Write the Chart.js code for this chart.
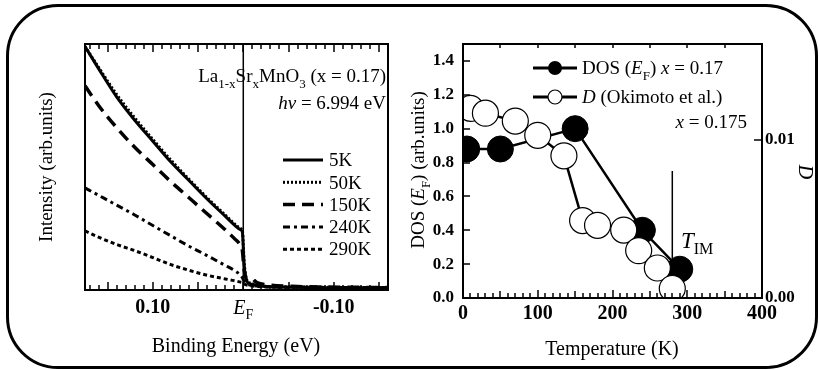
<!DOCTYPE html>
<html>
<head>
<meta charset="utf-8">
<script src="https://cdn.jsdelivr.net/npm/chart.js@4.4.1/dist/chart.umd.min.js"></script>
<style>
  body { margin: 0; background: #fff; }
  #wrap { position: relative; width: 820px; height: 370px; overflow: hidden; }
  canvas { position: absolute; top: 0; }
  #frame { position: absolute; left: 6px; top: 4px; width: 806px; height: 359px;
           border: 3px solid #000; border-radius: 52px; pointer-events: none; }
</style>
</head>
<body>
<div id="wrap">
  <canvas id="spectra" width="410" height="370" style="left:0"></canvas>
  <canvas id="dos" width="410" height="370" style="left:410px"></canvas>
  <div id="frame"></div>
</div>
<script>
// left panel: photoemission spectra
const energies = [0.175, 0.16, 0.14, 0.12, 0.10, 0.08, 0.06, 0.04, 0.02, 0.01, 0.003, 0.001,
                  -0.001, -0.004, -0.008, -0.015, -0.03, -0.06, -0.09, -0.12, -0.16];
const int5K   = [0.99, 0.90, 0.785, 0.69, 0.605, 0.52, 0.445, 0.37, 0.30, 0.265, 0.245, 0.235,
                 0.10, 0.035, 0.025, 0.018, 0.013, 0.011, 0.009, 0.009, 0.008];
const int50K  = [0.99, 0.905, 0.795, 0.70, 0.612, 0.528, 0.45, 0.375, 0.305, 0.27, 0.25, 0.24,
                 0.11, 0.04, 0.028, 0.02, 0.014, 0.012, 0.01, 0.01, 0.009];
const int150K = [0.83, 0.75, 0.66, 0.58, 0.51, 0.44, 0.375, 0.31, 0.245, 0.21, 0.18, 0.16,
                 0.08, 0.045, 0.05, 0.03, 0.02, 0.014, 0.012, 0.011, 0.01];
const int240K = [0.415, 0.385, 0.345, 0.305, 0.262, 0.22, 0.178, 0.14, 0.10, 0.08, 0.06, 0.05,
                 0.035, 0.025, 0.02, 0.016, 0.013, 0.012, 0.011, 0.01, 0.01];
const int290K = [0.24, 0.215, 0.185, 0.16, 0.132, 0.103, 0.08, 0.06, 0.045, 0.038, 0.032, 0.03,
                 0.025, 0.02, 0.017, 0.014, 0.012, 0.011, 0.01, 0.01, 0.01];
const spectraLabels = ['5K', '50K', '150K', '240K', '290K'];
const energyTicks = [0.10, 0, -0.10];

// right panel: DOS(EF) and Drude weight
const dosTemps  = [5, 50, 150, 240, 290];
const dosValues = [0.88, 0.88, 1.00, 0.40, 0.17];
const dTemps    = [10, 30, 70, 100, 135, 160, 180, 215, 235, 260, 280];
const dValues   = [0.0120, 0.0117, 0.0112, 0.0103, 0.0090, 0.0049, 0.0046, 0.0043, 0.0030, 0.0019, 0.0006];
const dosTicks  = [0, 0.2, 0.4, 0.6, 0.8, 1.0, 1.2, 1.4];
const dTicks    = [0, 0.01];
const tempTicks = [0, 100, 200, 300, 400];
const tIM = 280;

const FONT = '"Liberation Serif", "Times New Roman", serif';
Chart.defaults.font.family = FONT;
Chart.defaults.color = '#000';

// draw a run of text pieces: [text, flags] with flags i=italic, s=subscript
function rich(ctx, parts, x, y, size, align) {
  const fontOf = f => (f.includes('i') ? 'italic ' : '') + (f.includes('b') ? 'bold ' : '') +
    (f.includes('s') ? Math.round(size * 0.68) : size) + 'px ' + FONT;
  let w = 0;
  parts.forEach(([t, f = '']) => { ctx.font = fontOf(f); w += ctx.measureText(t).width; });
  let cx = align === 'right' ? x - w : align === 'center' ? x - w / 2 : x;
  const base = y + size * 0.33;
  ctx.textAlign = 'left';
  ctx.textBaseline = 'alphabetic';
  ctx.fillStyle = '#000';
  parts.forEach(([t, f = '']) => {
    ctx.font = fontOf(f);
    ctx.fillText(t, cx, base + (f.includes('s') ? size * 0.28 : 0));
    cx += ctx.measureText(t).width;
  });
}

function richRotated(ctx, parts, x, y, size, angle) {
  ctx.save();
  ctx.translate(x, y);
  ctx.rotate(angle);
  rich(ctx, parts, 0, 0, size, 'center');
  ctx.restore();
}

function line(ctx, x1, y1, x2, y2) {
  ctx.beginPath(); ctx.moveTo(x1, y1); ctx.lineTo(x2, y2); ctx.stroke();
}

const dashes = [[], [2, 2], [12, 7], [7, 4, 3, 4], [4, 3]];
const widths = [3, 3, 3.5, 3, 3];
const series = [int5K, int50K, int150K, int240K, int290K];

const spectraSets = series.map((vals, i) => ({
  label: spectraLabels[i],
  data: energies.map((e, k) => ({ x: e, y: vals[k] })),
  borderColor: '#000',
  borderWidth: widths[i],
  borderDash: dashes[i],
  pointRadius: 0,
  showLine: true,
  cubicInterpolationMode: 'monotone'
}));
spectraSets.push({
  label: 'EF',
  data: [{ x: 0, y: 0 }, { x: 0, y: 1 }],
  borderColor: '#000', borderWidth: 1.5, pointRadius: 0, showLine: true
});

const spectraDecor = {
  id: 'spectraDecor',
  afterDraw(chart) {
    const { ctx, chartArea: a, scales: { x } } = chart;
    ctx.save();
    ctx.setLineDash([]);
    ctx.strokeStyle = '#000';
    ctx.lineWidth = 2;
    ctx.strokeRect(a.left, a.top, a.right - a.left, a.bottom - a.top);
    ctx.lineWidth = 1.5;
    for (let k = -16; k <= 17; k++) {
      const px = Math.round(x.getPixelForValue(k / 100));
      const len = k % 5 === 0 ? 8 : 5;
      line(ctx, px, a.bottom, px, a.bottom - len);
      line(ctx, px, a.top, px, a.top + len);
    }
    // E_F tick label
    rich(ctx, [['E', 'i'], ['F', 's']], x.getPixelForValue(0), 307, 20, 'center');
    // annotations
    rich(ctx, [['La'], ['1-x', 's'], ['Sr'], ['x', 's'], ['MnO'], ['3', 's'], [' (x = 0.17)']], 386, 76, 19, 'right');
    rich(ctx, [['h', 'i'], ['\u03BD', 'i'], [' = 6.994 eV']], 386, 103, 19, 'right');
    // legend
    spectraLabels.forEach((lab, i) => {
      const y = 160 + i * 22.3;
      ctx.setLineDash(dashes[i]);
      ctx.lineWidth = widths[i];
      line(ctx, 283, y, 323, y);
      ctx.setLineDash([]);
      rich(ctx, [[lab]], 329, y, 19, 'left');
    });
    // axis titles
    rich(ctx, [['Binding Energy (eV)']], 236, 345, 20, 'center');
    richRotated(ctx, [['Intensity (arb.units)']], 46, 167, 19, -Math.PI / 2);
    ctx.restore();
  }
};

new Chart(document.getElementById('spectra'), {
  type: 'scatter',
  data: { datasets: spectraSets },
  options: {
    responsive: false,
    animation: false,
    devicePixelRatio: 1,
    layout: { padding: { top: 44, right: 22, left: 0, bottom: 0 } },
    plugins: { legend: { display: false }, tooltip: { enabled: false } },
    scales: {
      x: {
        type: 'linear', reverse: true, min: -0.16, max: 0.175,
        grid: { display: false, drawTicks: false }, border: { display: false },
        afterBuildTicks: s => { s.ticks = energyTicks.map(v => ({ value: v })); },
        afterFit: s => { s.height = 80; },
        ticks: {
          padding: 6, maxRotation: 0, autoSkip: false,
          font: { size: 20, weight: 'bold' },
          callback: v => (v === 0 ? '' : v.toFixed(2))
        }
      },
      y: {
        min: 0, max: 1,
        grid: { display: false, drawTicks: false }, border: { display: false },
        ticks: { display: false },
        afterFit: s => { s.width = 85; }
      }
    }
  },
  plugins: [spectraDecor]
});

// right panel
const dosDecor = {
  id: 'dosDecor',
  afterDraw(chart) {
    const { ctx, chartArea: a, scales: { x, y, y2 } } = chart;
    ctx.save();
    ctx.setLineDash([]);
    ctx.strokeStyle = '#000';
    ctx.lineWidth = 2;
    ctx.strokeRect(a.left, a.top, a.right - a.left, a.bottom - a.top);
    ctx.lineWidth = 1.5;
    for (let t = 0; t <= 400; t += 10) {
      const px = Math.round(x.getPixelForValue(t));
      const len = t % 100 === 0 ? 8 : t % 50 === 0 ? 7 : 5;
      line(ctx, px, a.bottom, px, a.bottom - len);
      if (t % 50 === 0) line(ctx, px, a.top, px, a.top + 4);
    }
    dosTicks.forEach(v => {
      const py = Math.round(y.getPixelForValue(v));
      line(ctx, a.left, py, a.left + 7, py);
    });
    dTicks.forEach(v => {
      const py = Math.round(y2.getPixelForValue(v));
      line(ctx, a.right, py, a.right - 8, py);
    });
    // legend
    ctx.lineWidth = 3;
    line(ctx, 123, 68, 167, 68);
    ctx.beginPath(); ctx.arc(145, 68, 7, 0, Math.PI * 2); ctx.fillStyle = '#000'; ctx.fill();
    rich(ctx, [['DOS ('], ['E', 'i'], ['F', 's'], [') '], ['x', 'i'], [' = 0.17']], 172, 68, 19, 'left');
    ctx.lineWidth = 3;
    line(ctx, 123, 97, 167, 97);
    ctx.beginPath(); ctx.arc(145, 97, 7, 0, Math.PI * 2);
    ctx.fillStyle = '#fff'; ctx.fill(); ctx.lineWidth = 1.2; ctx.stroke();
    rich(ctx, [['D', 'i'], [' (Okimoto et al.)']], 172, 97, 19, 'left');
    rich(ctx, [['x', 'i'], [' = 0.175']], 337, 122, 19, 'right');
    // T_IM label
    rich(ctx, [['T', 'i'], ['IM', 's']], 271, 240, 23, 'left');
    // axis titles
    rich(ctx, [['Temperature (K)']], 202, 348, 20, 'center');
    richRotated(ctx, [['DOS ('], ['E', 'i'], ['F', 's'], [') (arb.units)']], 8, 170, 19, -Math.PI / 2);
    richRotated(ctx, [['D', 'i']], 396, 172, 20, Math.PI / 2);
    ctx.restore();
  }
};

new Chart(document.getElementById('dos'), {
  type: 'scatter',
  data: {
    datasets: [
      {
        label: 'D (Okimoto et al.)',
        data: dTemps.map((t, i) => ({ x: t, y: dValues[i] })),
        yAxisID: 'y2',
        showLine: true,
        borderColor: '#000', borderWidth: 2.5,
        pointRadius: 13, pointBackgroundColor: '#fff',
        pointBorderColor: '#000', pointBorderWidth: 1.2,
        order: 0
      },
      {
        label: 'DOS (EF) x = 0.17',
        data: dosTemps.map((t, i) => ({ x: t, y: dosValues[i] })),
        yAxisID: 'y',
        showLine: true,
        borderColor: '#000', borderWidth: 2.5,
        pointRadius: 13, pointBackgroundColor: '#000',
        pointBorderColor: '#000', pointBorderWidth: 1,
        order: 1
      },
      {
        label: 'TIM',
        data: [{ x: tIM, y: 0 }, { x: tIM, y: 0.75 }],
        yAxisID: 'y',
        showLine: true, borderColor: '#000', borderWidth: 1.5, pointRadius: 0,
        order: 2
      }
    ]
  },
  options: {
    responsive: false,
    animation: false,
    devicePixelRatio: 1,
    layout: { padding: { top: 44, right: 0, left: 0, bottom: 0 } },
    plugins: { legend: { display: false }, tooltip: { enabled: false } },
    scales: {
      x: {
        type: 'linear', min: 0, max: 400,
        grid: { display: false, drawTicks: false }, border: { display: false },
        afterBuildTicks: s => { s.ticks = tempTicks.map(v => ({ value: v })); },
        afterFit: s => { s.height = 72; },
        ticks: { padding: 4, maxRotation: 0, autoSkip: false, font: { size: 20, weight: 'bold' } }
      },
      y: {
        position: 'left', min: 0, max: 1.5,
        grid: { display: false, drawTicks: false }, border: { display: false },
        afterBuildTicks: s => { s.ticks = dosTicks.map(v => ({ value: v })); },
        afterFit: s => { s.width = 53; },
        ticks: { padding: 9, font: { size: 17, weight: 'bold' }, callback: v => v.toFixed(1) }
      },
      y2: {
        position: 'right', min: 0, max: 0.01608,
        grid: { display: false, drawTicks: false }, border: { display: false },
        afterBuildTicks: s => { s.ticks = dTicks.map(v => ({ value: v })); },
        afterFit: s => { s.width = 58; },
        ticks: { padding: 3, font: { size: 17, weight: 'bold' }, callback: v => v.toFixed(2) }
      }
    }
  },
  plugins: [dosDecor]
});
</script>
</body>
</html>
